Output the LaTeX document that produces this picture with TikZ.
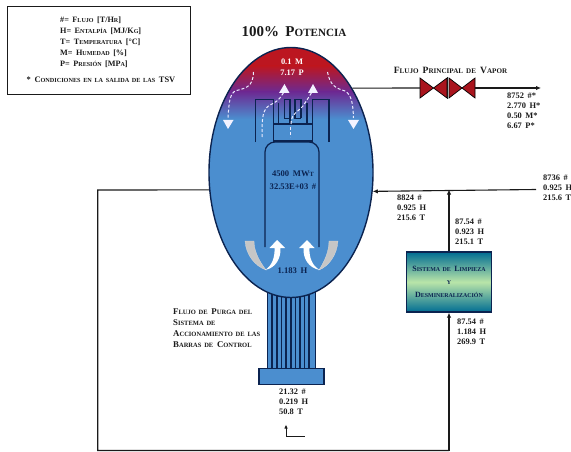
\documentclass[tikz,border=0pt]{standalone}
\usepackage{fontspec}
\setmainfont[WordSpace=1.7]{Liberation Serif}
\newfontfamily\lcf[Scale=0.74,WordSpace=1.7]{Liberation Serif}
\newcommand\cc[2]{#1{\lcf #2}}
\usetikzlibrary{arrows.meta,shapes.geometric}
\definecolor{navy}{HTML}{0B2350}
\definecolor{vblue}{HTML}{4B8ECF}
\definecolor{vred}{HTML}{BC1620}
\definecolor{vpurp}{HTML}{6C2A93}
\definecolor{ink}{HTML}{1A1A1A}
\tikzset{
  pipe/.style={draw=ink,line width=1.1pt},
  flow/.style={pipe,-{Latex[length=5pt,width=4.5pt]}},
  thinflow/.style={draw=ink,line width=.8pt,-{Latex[length=4pt,width=3.5pt]}},
  wall/.style={draw=navy,line width=1.2pt},
  thickwall/.style={draw=navy,line width=1.8pt},
  stat/.style={font=\bfseries\fontsize{8.4}{10}\selectfont,text=ink,align=left,anchor=north west,inner sep=0pt},
  vtext/.style={font=\bfseries\fontsize{8.6}{13}\selectfont,text=navy,align=center,inner sep=0pt},
  captext/.style={font=\bfseries\fontsize{8.8}{11}\selectfont,text=ink,align=left,anchor=north west,inner sep=0pt},
  steam/.style={draw=white!92!blue,line width=1pt,dash pattern=on 3pt off 2pt},
  head/.style={fill=white!95!blue,draw=none},
  valvetri/.style={draw=black,line width=.7pt,fill=vred!90!black},
}
\begin{document}
\begin{tikzpicture}[x=1pt,y=-1pt]
\useasboundingbox (0,0) rectangle (571,452);
% legend
\node[draw=ink,line width=1.4pt,minimum width=183pt,minimum height=88pt,anchor=north west,inner sep=0pt] (legend) at (7,6) {};
\node[font=\bfseries\fontsize{8.2}{10.8}\selectfont,text=ink,align=left,anchor=north west,inner sep=0pt] (legendtext) at (60,17)
 {\#= \cc{F}{LUJO} [T/\cc{H}{R}]\\
  H= \cc{E}{NTALPÍA} [MJ/\cc{K}{G}]\\
  T= \cc{T}{EMPERATURA} [°C]\\
  M= \cc{H}{UMEDAD} [\%]\\
  P= \cc{P}{RESIÓN} [MP\cc{}{A}]};
\node[font=\bfseries\fontsize{8.4}{10}\selectfont,text=ink,inner sep=0pt] (legendnote) at (101,80)
 {* \cc{C}{ONDICIONES EN LA SALIDA DE LAS} TSV};
% title
\node[font=\bfseries\fontsize{15}{16}\selectfont,text=ink,inner sep=0pt] (title) at (294,32) {100\% \cc{P}{OTENCIA}};
% rods
\fill[vblue] (267.5,280) rectangle (315.5,369);
\foreach \x in {267.5,272,277,281.5,286,291,295.5,300,304.5,309,315.5}
  \draw[wall] (\x,280) -- (\x,369);
\node[draw=navy,fill=vblue,line width=1.3pt,minimum width=65pt,minimum height=16pt,inner sep=0pt] (base) at (291.5,376.5) {};
% vessel
\begin{scope}
 \clip (291,172.5) ellipse (82pt and 125pt);
 \fill[vblue] (200,118) rectangle (380,300);
 \fill[vred] (200,45) rectangle (380,66);
 \shade[top color=vred,bottom color=vpurp] (200,66) rectangle (380,92);
 \shade[top color=vpurp,bottom color=vblue] (200,92) rectangle (380,119);
\end{scope}
\node[ellipse,draw=navy,line width=1.4pt,minimum width=164pt,minimum height=250pt,inner sep=0pt] (vessel) at (291,172.5) {};
% separators and shroud
\draw[wall,rounded corners=10pt] (265,247) -- (265,142) -- (319,142) -- (319,247);
\draw[wall] (273.5,124) rectangle (312.5,141);
\draw[thickwall] (273.5,124) -- (312.5,124);
\draw[wall] (255.7,142) -- (255.7,99.5) -- (273.5,99.5) -- (273.5,124);
\draw[wall] (329,142) -- (329,99.5) -- (312.5,99.5) -- (312.5,124);
\draw[thickwall] (278.5,103) -- (278.5,124);
\draw[thickwall] (284.5,99.5) -- (284.5,118.5) -- (290,118.5) (290,99.5) -- (290,124);
\draw[wall] (284.5,99.5) -- (290,99.5);
\draw[thickwall] (295,99.5) -- (295,118.5) -- (301,118.5) (301,99.5) -- (301,118.5);
\draw[wall] (295,99.5) -- (301,99.5);
\draw[thickwall] (307,103) -- (307,124);
% steam flows
\draw[steam] (253.5,72) .. controls (253,88) and (245,88) .. (235,91) .. controls (229,95) and (229,105) .. (228,118);
\fill[head] (223,120) -- (233.5,120) -- (228,129) -- cycle;
\draw[steam] (327.5,72) .. controls (330,85) and (335,88) .. (345,91) .. controls (352,95) and (353,105) .. (353.5,118);
\fill[head] (348,120) -- (359,120) -- (353.5,129) -- cycle;
\draw[steam] (262,137) .. controls (262,118) and (262,108) .. (272,104) .. controls (280,100) and (281,96) .. (284,92);
\fill[head] (284.5,84) -- (289.5,93) -- (279,93) -- cycle;
\draw[steam] (291,124) .. controls (291,112) and (300,112) .. (305,103) -- (312,92);
\fill[head] (313,84) -- (318,93) -- (308,93) -- cycle;
\draw[steam] (290,127) -- (290,137);
% recirculation arrows
\fill[gray!45!white,draw=white!70!gray,line width=.3pt] (245,241) -- (254,241) .. controls (254,252) and (260,262) .. (266,270) .. controls (255,266) and (246,255) .. (245,241) -- cycle;
\fill[white] (265,270) .. controls (272,266) and (275,257) .. (274.5,248) -- (269.5,248) -- (277,240) -- (285,248) -- (280.5,248) .. controls (281,258) and (276,268) .. (265,270) -- cycle;
\fill[gray!45!white,draw=white!70!gray,line width=.3pt] (338,241) -- (329,241) .. controls (329,252) and (324,262) .. (319,270) .. controls (329,266) and (337,255) .. (338,241) -- cycle;
\fill[white] (320,270) .. controls (312,266) and (309,257) .. (309.5,248) -- (314.5,248) -- (307,240) -- (299,248) -- (303.5,248) .. controls (303,258) and (308,268) .. (320,270) -- cycle;
% vessel text
\node[font=\bfseries\fontsize{8.4}{11}\selectfont,text=white,align=center,inner sep=0pt] (vtop) at (292,67.5) {0.1 M\\7.17 P};
\node[vtext] (vmid) at (293,180.5) {4500 MW\cc{}{T}\\32.53E+03 \#};
\node[vtext] (vlow) at (292.5,270.5) {1.183 H};
% valves
\filldraw[valvetri] (420,78) -- (433.5,88) -- (420,98) -- cycle;
\filldraw[valvetri] (447,78) -- (433.5,88) -- (447,98) -- cycle;
\filldraw[valvetri] (449,78) -- (462,88) -- (449,98) -- cycle;
\filldraw[valvetri] (475,78) -- (462,88) -- (475,98) -- cycle;
\draw[pipe] (447.9,77) -- (447.9,99);
\coordinate (steamend) at (541,88);
\coordinate (v1in) at (420,88);
\coordinate (v2out) at (475,88);
\draw[pipe] (vessel.54.4) -- (v1in);
\draw[flow] (v2out) -- (steamend);
\node[font=\bfseries\fontsize{9.6}{10}\selectfont,text=ink,inner sep=0pt] (steamlabel) at (450.5,70) {\cc{F}{LUJO} \cc{P}{RINCIPAL DE} \cc{V}{APOR}};
\node[stat] (s1) at (507,93) {8752 \#*\\2.770 H*\\0.50 M*\\6.67 P*};
% feed
\coordinate (feedin) at (536,189.5);
\draw[flow] (feedin) -- (vessel.347.8);
\node[stat] (s2) at (543,174.5) {8736 \#\\0.925 H\\215.6 T};
\node[stat] (s3) at (397,194.5) {8824 \#\\0.925 H\\215.6 T};
% cleanup
\node[draw=navy,line width=1.4pt,minimum width=85pt,minimum height=60pt,inner sep=0pt,
  shading=axis,top color=teal!85!blue,bottom color=teal!85!blue,middle color=green!30!yellow!30!white!80!teal,
  font=\bfseries\fontsize{8}{13}\selectfont,text=navy,align=center] (cleanup) at (449,282)
  {\cc{S}{ISTEMA DE} \cc{L}{IMPIEZA}\\\cc{}{Y}\\\cc{D}{ESMINERALIZACIÓN}};
\coordinate (junction) at (449,189.5);
\draw[flow] (cleanup.north) -- (junction);
\node[stat] (s4) at (455,218.5) {87.54 \#\\0.923 H\\215.1 T};
\node[stat] (s5) at (457,318.5) {87.54 \#\\1.184 H\\269.9 T};
% loop
\coordinate (ll1) at (97.7,190);
\coordinate (ll2) at (97.7,450.5);
\coordinate (ll3) at (449,450.5);
\draw[pipe] (vessel.192.2) -- (ll1) -- (ll2) -- (ll3);
\draw[flow] (ll3) -- (cleanup.south);
% purge
\node[captext] (purge) at (173,309) {\cc{F}{LUJO DE} \cc{P}{URGA DEL}\\\cc{S}{ISTEMA DE}\\\cc{A}{CCIONAMIENTO DE LAS}\\\cc{B}{ARRAS DE} \cc{C}{ONTROL}};
\node[stat] (s6) at (279,389) {21.32 \#\\0.219 H\\50.8 T};
\coordinate (pa) at (304.5,436);
\coordinate (pb) at (286,436);
\coordinate (pc) at (286,424.5);
\draw[thinflow] (pa) -- (pb) -- (pc);
\end{tikzpicture}
\end{document}
